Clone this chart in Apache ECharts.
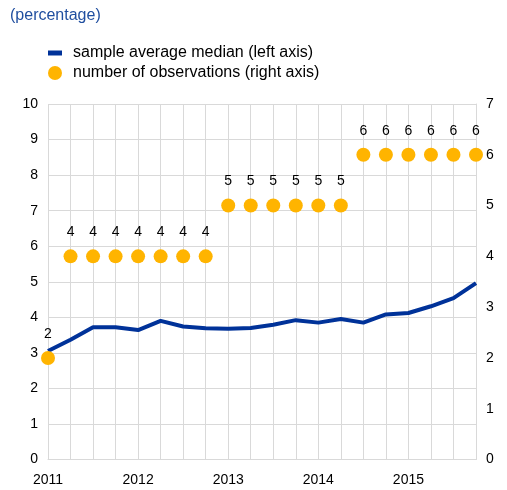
<!DOCTYPE html>
<html><head><meta charset="utf-8">
<script src="https://cdn.jsdelivr.net/npm/echarts@6/dist/echarts.min.js"></script>
<style>html,body{margin:0;padding:0;background:#fff}#c{width:507px;height:490px}</style>
</head><body><div id="c"></div>
<script>
const categories = ['2011','2011Q2','2011Q3','2011Q4','2012','2012Q2','2012Q3','2012Q4','2013','2013Q2','2013Q3','2013Q4','2014','2014Q2','2014Q3','2014Q4','2015','2015Q2','2015Q3','2015Q4'];
const medianValues = [3.05,3.37,3.72,3.72,3.64,3.90,3.74,3.69,3.68,3.70,3.79,3.92,3.85,3.95,3.85,4.08,4.12,4.31,4.54,4.96];
const observations = [2,4,4,4,4,4,4,4,5,5,5,5,5,5,6,6,6,6,6,6];
const seriesNames = ['sample average median (left axis)','number of observations (right axis)'];
const font = 'Liberation Sans, Arial, sans-serif';
const chart = echarts.init(document.getElementById('c'), null, {renderer:'canvas'});
chart.setOption({
  animation:false,
  title:{text:'(percentage)',left:5,top:3,textStyle:{color:'#1f4e9f',fontSize:16,fontWeight:'normal',fontFamily:font}},
  legend:{orient:'vertical',left:48,top:45,padding:0,itemGap:4,itemWidth:14,itemHeight:14,
    textStyle:{color:'#000',fontSize:16,fontFamily:font,padding:[0,0,0,6]},
    data:[{name:seriesNames[0],icon:'path://M0,4.5 L14,4.5 L14,9.5 L0,9.5 Z'},{name:seriesNames[1],icon:'circle'}]},
  grid:{left:48,right:31,top:104,bottom:30.5},
  xAxis:{type:'category',data:categories,boundaryGap:false,
    axisLine:{lineStyle:{color:'#d9d9d9'}},axisTick:{show:false},
    axisLabel:{interval:3,color:'#000',fontSize:14,fontFamily:font,margin:14,formatter:v=>v.length===4?v:''},
    splitLine:{show:true,interval:0,lineStyle:{color:'#d9d9d9'}}},
  yAxis:[
    {type:'value',min:0,max:10,interval:1,axisLine:{show:false},axisTick:{show:false},
     axisLabel:{color:'#000',fontSize:14,fontFamily:font,margin:10},
     splitLine:{lineStyle:{color:'#d9d9d9'}}},
    {type:'value',min:0,max:7,interval:1,axisLine:{show:true,lineStyle:{color:'#d9d9d9'}},axisTick:{show:false},
     axisLabel:{color:'#000',fontSize:14,fontFamily:font,margin:10},splitLine:{show:false}}
  ],
  series:[
    {name:seriesNames[0],type:'line',yAxisIndex:0,data:medianValues,showSymbol:false,symbol:'none',
     lineStyle:{color:'#003299',width:4},itemStyle:{color:'#003299'},z:2},
    {name:seriesNames[1],type:'scatter',yAxisIndex:1,data:observations,symbol:'circle',symbolSize:14,
     itemStyle:{color:'#FFB400',opacity:1},z:3,
     label:{show:true,position:'top',distance:10,color:'#000',fontSize:14,fontFamily:font}}
  ]
});
</script></body></html>
